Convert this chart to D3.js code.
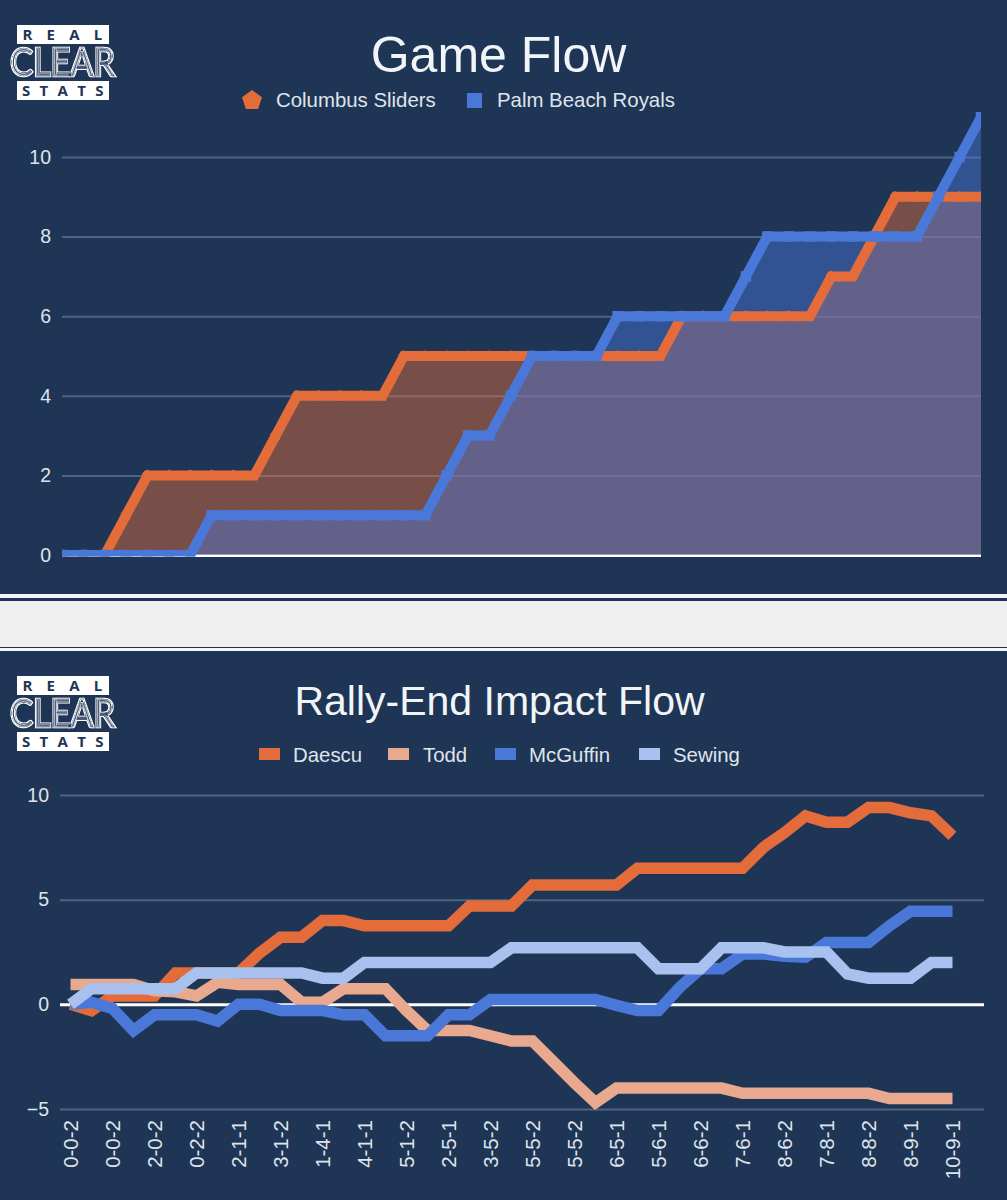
<!DOCTYPE html>
<html>
<head>
<meta charset="utf-8">
<script src="https://cdn.jsdelivr.net/npm/d3@7"></script>
<style>
  html, body { margin: 0; padding: 0; background: #1f3555; }
  svg { display: block; }
  text { font-family: "Liberation Sans", Arial, sans-serif; }
</style>
</head>
<body>
<div id="my_dataviz"></div>
<script>
// Game flow data, one value per rally
const sliders = [0,0,0,1,2,2,2,2,2,2,3,4,4,4,4,4,5,5,5,5,5,5,5,5,5,5,5,5,5,6,6,6,6,6,6,6,7,7,8,9,9,9,9,9];
const royals = [0,0,0,0,0,0,0,1,1,1,1,1,1,1,1,1,1,1,2,3,3,4,5,5,5,5,6,6,6,6,6,6,7,8,8,8,8,8,8,8,8,9,10,11];
const flowTicks = [0, 2, 4, 6, 8, 10];

// Impact flow data
const scoreLabels = ["0-0-2","0-0-2","2-0-2","0-2-2","2-1-1","3-1-2","1-4-1","4-1-1","5-1-2","2-5-1","3-5-2",
  "5-5-2","5-5-2","6-5-1","5-6-1","6-6-2","7-6-1","8-6-2","7-8-1","8-8-2","8-9-1","10-9-1"];
const daescu = [0,-0.3,0.4,0.4,0.4,1.5,1.5,1.5,1.5,2.45,3.2,3.2,4,4,3.75,3.75,3.75,3.75,3.75,4.7,4.7,4.7,5.7,5.7,5.7,5.7,5.7,
  6.5,6.5,6.5,6.5,6.5,6.5,7.5,8.2,9,8.7,8.7,9.4,9.4,9.15,9,8.05];
const todd = [0.95,0.95,0.95,0.95,0.65,0.6,0.4,1.05,0.95,0.95,0.95,0.1,0.1,0.75,0.75,0.75,-0.3,-1.25,-1.25,-1.25,-1.5,-1.75,-1.75,
  -2.75,-3.75,-4.7,-4,-4,-4,-4,-4,-4,-4.25,-4.25,-4.25,-4.25,-4.25,-4.25,-4.25,-4.5,-4.5,-4.5,-4.5];
const mcguffin = [0,0.1,-0.2,-1.25,-0.5,-0.5,-0.5,-0.8,0,0,-0.3,-0.3,-0.3,-0.5,-0.5,-1.5,-1.5,-1.5,-0.5,-0.5,0.23,0.23,0.23,0.23,0.23,0.23,
  -0.05,-0.3,-0.3,0.8,1.7,1.7,2.4,2.4,2.3,2.25,2.95,2.95,2.95,3.75,4.45,4.45,4.45];
const sewing = [0,0.75,0.75,0.75,0.75,0.75,1.5,1.5,1.5,1.5,1.5,1.5,1.25,1.25,2,2,2,2,2,2,2,2.7,2.7,2.7,2.7,2.7,2.7,2.7,
  1.7,1.7,1.7,2.7,2.7,2.7,2.5,2.5,2.5,1.45,1.25,1.25,1.25,2,2];
const impactTicks = [-5, 0, 5, 10];

const bg = "#1f3555";
const orange = "#e36c3a";
const peach = "#e8a98e";
const blue = "#4a78d8";
const pale = "#a9c1ef";
const textColor = "#dfe4ec";
const gridColor = "#4e6582";

const svg = d3.select("#my_dataviz")
    .append("svg")
    .attr("width", 1007)
    .attr("height", 1200);

// Page: two dark panels with a grey strip between them
svg.append("rect").attr("width", 1007).attr("height", 1200).attr("fill", bg);
svg.append("rect").attr("y", 594).attr("width", 1007).attr("height", 4).attr("fill", "#f4f6fa");
svg.append("rect").attr("y", 601).attr("width", 1007).attr("height", 46).attr("fill", "#efefef");
svg.append("rect").attr("y", 648).attr("width", 1007).attr("height", 3).attr("fill", "#f4f6fa");

// hollows the thick stroke of the logo word into a double outline
const hollow = svg.append("filter").attr("id", "hollow");
hollow.append("feMorphology").attr("in", "SourceGraphic").attr("operator", "erode").attr("radius", 0.55).attr("result", "inner");
hollow.append("feComposite").attr("in", "SourceGraphic").attr("in2", "inner").attr("operator", "out");

function drawLogo(dy) {
    const g = svg.append("g").attr("transform", `translate(0,${dy})`);
    g.append("rect").attr("x", 17).attr("y", 25).attr("width", 92).attr("height", 19).attr("fill", "white");
    g.append("rect").attr("x", 17).attr("y", 81).attr("width", 92).attr("height", 19).attr("fill", "white");
    g.append("text").attr("x", 22.5).attr("y", 40).attr("font-size", 15).attr("font-weight", "bold")
        .attr("letter-spacing", 14.2).attr("fill", bg).style("font-family", "'Open Sans'").text("REAL");
    g.append("text").attr("x", 22).attr("y", 96).attr("font-size", 15).attr("font-weight", "bold")
        .attr("letter-spacing", 9.3).attr("fill", bg).style("font-family", "'Open Sans'").text("STATS");
    g.append("text").attr("x", 10).attr("y", 76).attr("font-size", 38)
        .attr("textLength", 105).attr("lengthAdjust", "spacingAndGlyphs")
        .attr("fill", "none").attr("stroke", "white").attr("stroke-width", 2.6)
        .attr("filter", "url(#hollow)")
        .style("font-family", "Lato").text("CLEAR");
}
drawLogo(0);
drawLogo(651);

function styleAxis(g, zero) {
    g.select(".domain").remove();
    g.selectAll(".tick line")
        .attr("stroke", d => d === 0 ? "white" : gridColor)
        .attr("stroke-width", d => d === 0 ? zero : 2);
    g.selectAll(".tick text")
        .attr("fill", textColor)
        .attr("font-size", 19.5)
        .style("font-family", "'Liberation Sans'");
}

function legendText(x, y, label) {
    svg.append("text").attr("x", x).attr("y", y).attr("font-size", 20.4).attr("fill", textColor).text(label);
}

// ---------- Game Flow ----------
const xFlow = d3.scaleLinear().domain([0, sliders.length - 1]).range([62, 981]);
const yFlow = d3.scaleLinear().domain([0, 10]).range([555, 157]);

svg.append("text").attr("x", 498.5).attr("y", 72).attr("text-anchor", "middle")
    .attr("font-size", 50).attr("fill", "#f2f5f8").text("Game Flow");

const pentagon = {
    draw: function(context, size) {
        const r = Math.sqrt(size);
        d3.range(5).forEach(function(i) {
            const a = -Math.PI / 2 + i * 2 * Math.PI / 5;
            if (i === 0) context.moveTo(r * Math.cos(a), r * Math.sin(a));
            else context.lineTo(r * Math.cos(a), r * Math.sin(a));
        });
        context.closePath();
    }
};

svg.append("path").attr("d", d3.symbol().type(pentagon).size(110)())
    .attr("transform", "translate(252,100.5)").attr("fill", orange);
legendText(276, 107, "Columbus Sliders");
svg.append("rect").attr("x", 467).attr("y", 93).attr("width", 15).attr("height", 15).attr("fill", blue);
legendText(497, 107, "Palm Beach Royals");

svg.append("g").attr("transform", "translate(62,0)")
    .call(d3.axisLeft(yFlow).tickValues(flowTicks).tickSize(-919).tickPadding(11).tickFormat(d3.format("d")))
    .call(styleAxis, 3);

svg.append("clipPath").attr("id", "flowClip").append("rect")
    .attr("x", 62).attr("y", 100).attr("width", 919).attr("height", 456.5);

const flowPlot = svg.append("g").attr("clip-path", "url(#flowClip)");
const flowSeries = [[sliders, orange, pentagon, 34], [royals, blue, d3.symbolSquare, 110]];

// areas go under both lines
flowSeries.forEach(function(s) {
    const area = d3.area().x((d, i) => xFlow(i)).y0(yFlow(0)).y1(d => yFlow(d));
    flowPlot.append("path").attr("d", area(s[0])).attr("fill", s[1]).attr("fill-opacity", 0.46);
});
flowSeries.forEach(function(s) {
    const values = s[0];
    const line = d3.line().x((d, i) => xFlow(i)).y(d => yFlow(d));
    flowPlot.append("path").attr("d", line(values)).attr("fill", "none")
        .attr("stroke", s[1]).attr("stroke-width", 10).attr("stroke-linejoin", "miter");
    flowPlot.selectAll(null).data(values).enter().append("path")
        .attr("d", d3.symbol().type(s[2]).size(s[3])())
        .attr("transform", (d, i) => `translate(${xFlow(i)},${yFlow(d)})`)
        .attr("fill", s[1]);
});

// ---------- Rally-End Impact Flow ----------
// 44 bands across the plot, the last one stays empty
const xImpact = d3.scalePoint().domain(d3.range(44)).range([60, 984]).padding(0.5);
const yImpact = d3.scaleLinear().domain([-5, 10]).range([1109, 795]);

svg.append("text").attr("x", 499.5).attr("y", 715).attr("text-anchor", "middle")
    .attr("font-size", 41).attr("fill", "#f2f5f8").text("Rally-End Impact Flow");

[["Daescu", orange, 259, 293], ["Todd", peach, 388, 423], ["McGuffin", blue, 495, 529], ["Sewing", pale, 639, 673]].forEach(function(l) {
    svg.append("rect").attr("x", l[2]).attr("y", 748).attr("width", 21).attr("height", 12).attr("fill", l[1]);
    legendText(l[3], 762, l[0]);
});

svg.append("g").attr("transform", "translate(60,0)")
    .call(d3.axisLeft(yImpact).tickValues(impactTicks).tickSize(-924).tickPadding(11).tickFormat(d3.format("d")))
    .call(styleAxis, 3);

const xAxis = svg.append("g").attr("transform", "translate(0,1109)")
    .call(d3.axisBottom(xImpact)
        .tickValues(d3.range(0, 44, 2))
        .tickSize(0)
        .tickFormat(i => scoreLabels[i / 2]));
xAxis.select(".domain").remove();
xAxis.selectAll("text")
    .attr("transform", "rotate(-90)")
    .attr("text-anchor", "end")
    .attr("x", -11)
    .attr("y", 0)
    .attr("dy", "0.35em")
    .attr("font-size", 20.5)
    .attr("fill", textColor)
    .style("font-family", "'Liberation Sans'");

const impactLine = d3.line().x((d, i) => xImpact(i)).y(d => yImpact(d));
[[daescu, orange], [todd, peach], [mcguffin, blue], [sewing, pale]].forEach(function(s) {
    svg.append("path").attr("d", impactLine(s[0])).attr("fill", "none")
        .attr("stroke", s[1]).attr("stroke-width", 11.5).attr("stroke-linejoin", "miter");
});
</script>
</body>
</html>
